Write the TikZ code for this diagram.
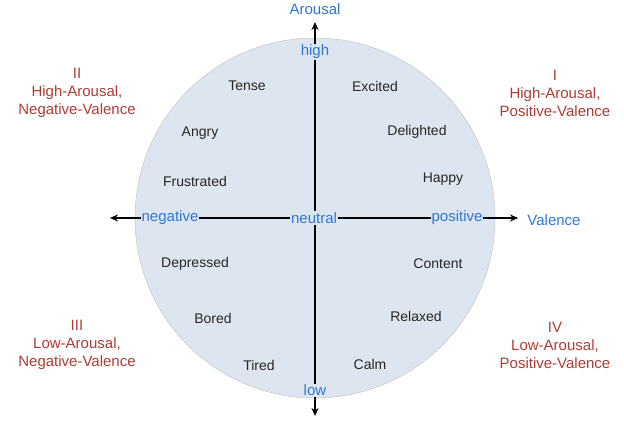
\documentclass[tikz,border=0pt]{standalone}
\usepackage{fontspec}
\setmainfont{Liberation Sans}
\usetikzlibrary{arrows.meta}
\begin{document}
\begin{tikzpicture}[x=1pt,y=-1pt,
  emo/.style={font=\fontsize{14}{16}\selectfont, text=black!85},
  ax/.style={font=\fontsize{15}{17}\selectfont, text=axblue, inner sep=1pt},
  axin/.style={ax, fill=circfill},
  quad/.style={font=\fontsize{15}{18}\selectfont, text=quadred, align=center},
  arr/.style={line width=1.5pt, -{Stealth[length=8pt,width=7pt]}}]
\definecolor{circfill}{RGB}{221,229,240}
\definecolor{axblue}{RGB}{45,120,215}
\definecolor{quadred}{RGB}{175,60,50}
\useasboundingbox (0,0) rectangle (624,424);
\node[circle, minimum size=360pt, fill=circfill, draw=black!25, inner sep=0] (c) at (315,218) {};
\coordinate (L) at (110,218); \coordinate (R) at (518,218);
\coordinate (T) at (315,22); \coordinate (B) at (315,416);
\coordinate (C) at (315,218);
\draw[arr] (C) -- (L); \draw[arr] (C) -- (R);
\draw[arr] (C) -- (T); \draw[arr] (C) -- (B);
\node[ax] (arousal) at (315,9) {Arousal};
\node[ax] (valence) at (554,220) {Valence};
\node[axin] (high) at (315,52) {high};
\node[axin] (low) at (315,390) {low};
\node[axin] (neg) at (170,218) {negative};
\node[axin] (neu) at (314,218) {neutral};
\node[axin] (pos) at (457,218) {positive};
\node[emo] (e1) at (247,86) {Tense};
\node[emo] (e2) at (375,86) {Excited};
\node[emo] (e3) at (200,133) {Angry};
\node[emo] (e4) at (417,132) {Delighted};
\node[emo] (e5) at (195,181) {Frustrated};
\node[emo] (e6) at (443,179) {Happy};
\node[emo] (e7) at (195,264) {Depressed};
\node[emo] (e8) at (438,264) {Content};
\node[emo] (e9) at (213,318) {Bored};
\node[emo] (e10) at (416,316) {Relaxed};
\node[emo] (e11) at (259,365) {Tired};
\node[emo] (e12) at (370,364) {Calm};
\node[quad] (q2) at (77,93) {II\\High-Arousal,\\Negative-Valence};
\node[quad] (q1) at (555,93) {I\\High-Arousal,\\Positive-Valence};
\node[quad] (q3) at (77,345) {III\\Low-Arousal,\\Negative-Valence};
\node[quad] (q4) at (555,345) {IV\\Low-Arousal,\\Positive-Valence};
\end{tikzpicture}
\end{document}
